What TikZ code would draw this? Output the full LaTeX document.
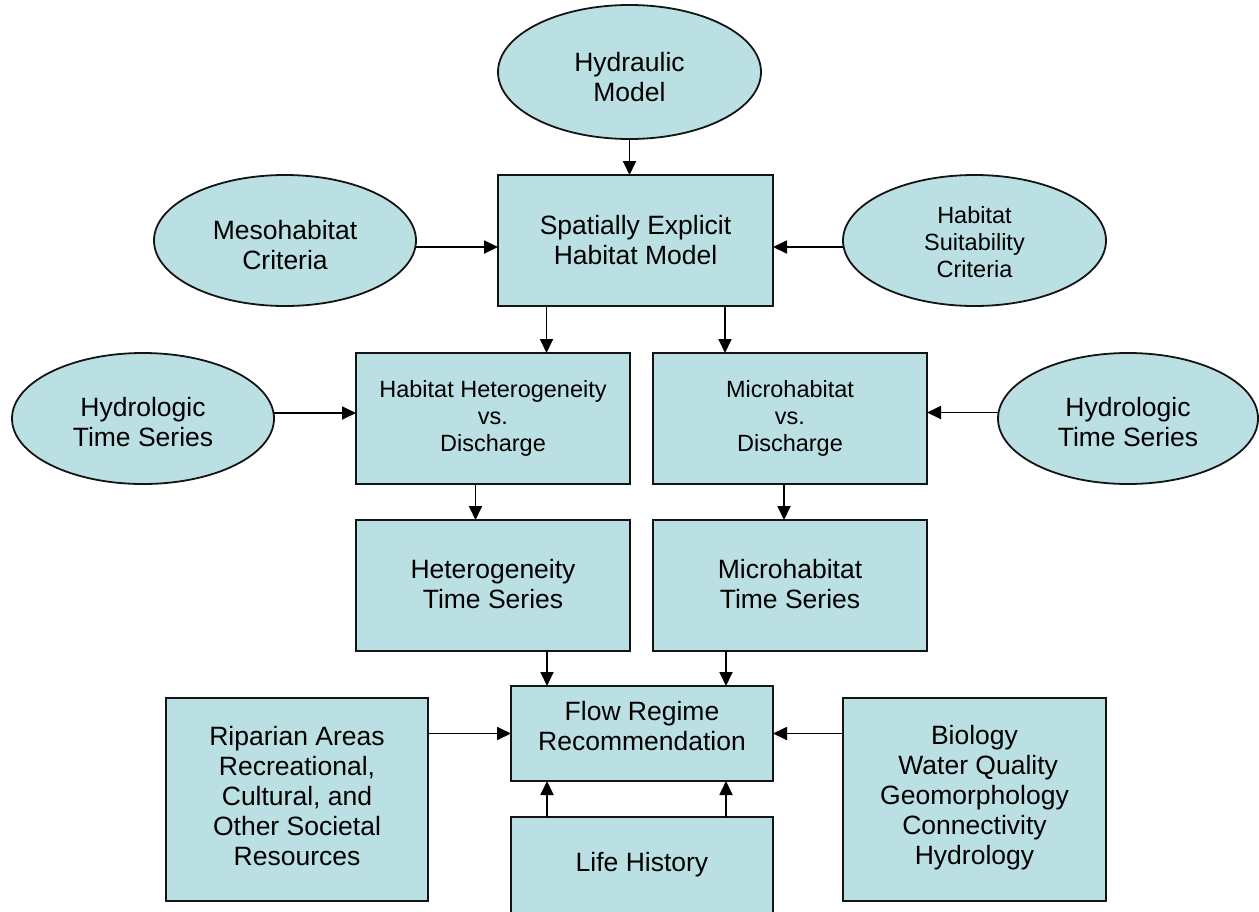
\documentclass[tikz,border=0pt]{standalone}
\usepackage{fontspec}
\setmainfont{Liberation Sans}
\usetikzlibrary{shapes.geometric,arrows.meta}
\definecolor{boxfill}{RGB}{187,224,227}
\definecolor{edge}{RGB}{20,20,20}
\newcommand\tallfirst[1]{\rule{0pt}{#1}}
\newcommand\deepend[1]{\rule[-#1]{0pt}{#1}}
\tikzset{
  big/.style={font=\fontsize{26.5}{30}\selectfont},
  small/.style={font=\fontsize{23.5}{27}\selectfont},
  rbox/.style={draw=edge, line width=2pt, fill=boxfill, rectangle, align=center, inner sep=0pt, outer sep=0pt},
  ell/.style={draw=edge, line width=1.8pt, fill=boxfill, ellipse, align=center, inner sep=0pt, outer sep=0pt},
  arr/.style={draw=black, line width=1.8pt, -{Triangle[length=14pt,width=13pt]}},
}
\begin{document}
\begin{tikzpicture}[x=1pt,y=-1pt]
\useasboundingbox (0,0) rectangle (1259,911);
% ellipses
\node[ell,big,minimum width=263pt,minimum height=134pt] (hyd) at (629.5,72) {\tallfirst{30pt}Hydraulic\\Model};
\node[ell,big,minimum width=262pt,minimum height=131pt] (meso) at (285,240.5) {\tallfirst{28pt}Mesohabitat\\Criteria};
\node[ell,small,minimum width=263pt,minimum height=131pt] (hsc) at (974.5,240.5) {\tallfirst{21pt}Habitat\\Suitability\\Criteria};
\node[ell,big,minimum width=262pt,minimum height=131pt] (hydL) at (143,418.5) {\tallfirst{26pt}Hydrologic\\Time Series};
\node[ell,big,minimum width=260pt,minimum height=131pt] (hydR) at (1128,418.5) {\tallfirst{26pt}Hydrologic\\Time Series};
% boxes
\node[rbox,big,minimum width=275pt,minimum height=131pt] (spatial) at (635.5,240.5) {Spatially Explicit\\Habitat Model};
\node[rbox,small,minimum width=274pt,minimum height=131pt] (hhd) at (493,418.5) {Habitat Heterogeneity\\vs.\\Discharge};
\node[rbox,small,minimum width=274pt,minimum height=131pt] (mvd) at (790,418.5) {Microhabitat\\vs.\\Discharge};
\node[rbox,big,minimum width=274pt,minimum height=131pt] (hts) at (493,585.5) {Heterogeneity\\Time Series\deepend{4pt}};
\node[rbox,big,minimum width=274pt,minimum height=131pt] (mts) at (790,585.5) {Microhabitat\\Time Series\deepend{4pt}};
\node[rbox,big,minimum width=262pt,minimum height=95pt] (flow) at (642,733.5) {Flow Regime\\Recommendation\deepend{15pt}};
\node[rbox,big,minimum width=262pt,minimum height=96pt] (life) at (642,865) {Life History};
\node[rbox,big,minimum width=262pt,minimum height=203pt] (rip) at (297,799.5) {Riparian Areas\\Recreational,\\Cultural, and\\Other Societal\\Resources\deepend{8pt}};
\node[rbox,big,minimum width=263pt,minimum height=203pt] (bio) at (974.5,799.5) {Biology\\\ Water Quality\\Geomorphology\\Connectivity\\Hydrology\deepend{9pt}};
% connectors
\draw[arr] (hyd.south) -- (hyd.south |- spatial.north);
\draw[arr] ([yshift=-6.5pt]meso.east) -- ([yshift=-6.5pt]spatial.west);
\draw[arr] ([yshift=-6.5pt]hsc.west) -- ([yshift=-6.5pt]spatial.east);
\draw[arr] ([xshift=-89pt]spatial.south) -- ([xshift=-89pt]spatial.south |- hhd.north);
\draw[arr] ([xshift=89.5pt]spatial.south) -- ([xshift=89.5pt]spatial.south |- mvd.north);
\draw[arr] ([yshift=5.5pt]hydL.east) -- ([yshift=5.5pt]hhd.west);
\draw[arr] ([yshift=6pt]hydR.west) -- ([yshift=6pt]mvd.east);
\draw[arr] ([xshift=-17.5pt]hhd.south) -- ([xshift=-17.5pt]hts.north);
\draw[arr] ([xshift=-6pt]mvd.south) -- ([xshift=-6pt]mts.north);
\draw[arr] ([xshift=-95pt]flow.north |- hts.south) -- ([xshift=-95pt]flow.north);
\draw[arr] ([xshift=84pt]flow.north |- mts.south) -- ([xshift=84pt]flow.north);
\draw[arr] ([xshift=-95pt]life.north) -- ([xshift=-95pt]flow.south);
\draw[arr] ([xshift=84pt]life.north) -- ([xshift=84pt]flow.south);
\draw[arr] (rip.east |- flow.west) -- (flow.west);
\draw[arr] (bio.west |- flow.east) -- (flow.east);
\end{tikzpicture}
\end{document}
